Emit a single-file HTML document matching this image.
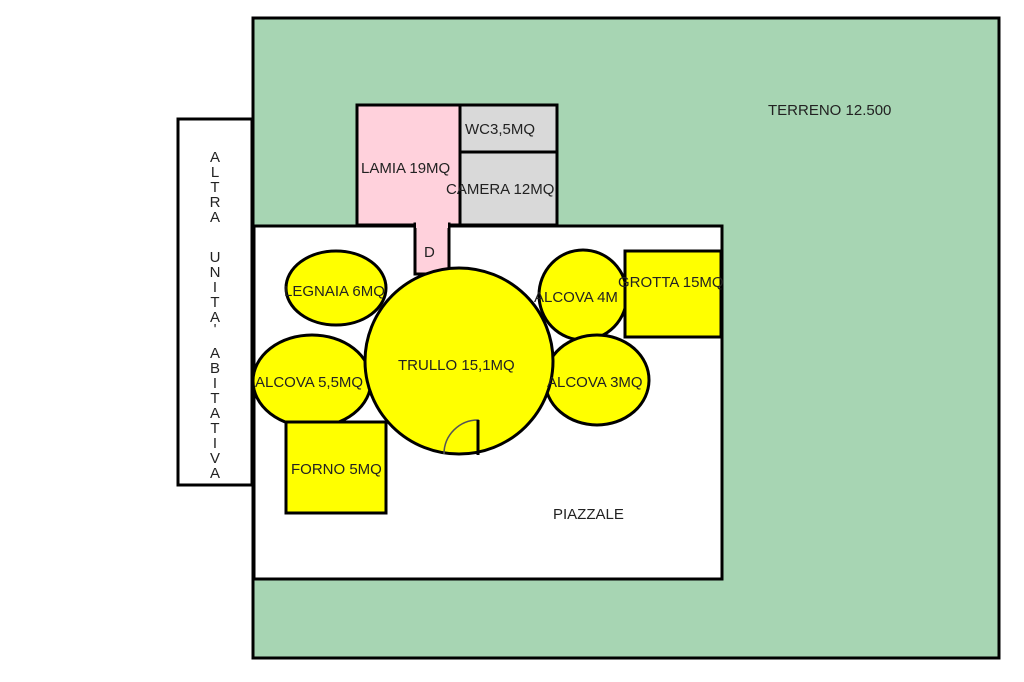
<!DOCTYPE html>
<html><head><style>body{margin:0;background:#fff}svg{display:block}text{font-family:"Liberation Sans",sans-serif;font-size:15px;fill:#222}</style></head><body>
<svg width="1024" height="682" viewBox="0 0 1024 682">
<rect x="0" y="0" width="1024" height="682" fill="#fff"/>
<rect x="253" y="18" width="746" height="640" fill="#a7d5b3" stroke="#000" stroke-width="3"/>
<rect x="178" y="119" width="74" height="366" fill="#fff" stroke="#000" stroke-width="3"/>
<g text-anchor="middle">
<text x="215" y="162">A</text><text x="215" y="177">L</text><text x="215" y="192">T</text><text x="215" y="207">R</text><text x="215" y="222">A</text>
<text x="215" y="262">U</text><text x="215" y="277">N</text><text x="215" y="292">I</text><text x="215" y="307">T</text><text x="215" y="322">A</text><text x="215" y="334">'</text>
<text x="215" y="358">A</text><text x="215" y="373">B</text><text x="215" y="388">I</text><text x="215" y="403">T</text><text x="215" y="418">A</text><text x="215" y="433">T</text><text x="215" y="448">I</text><text x="215" y="463">V</text><text x="215" y="478">A</text>
</g>
<rect x="357" y="105" width="103" height="120" fill="#ffd1dc" stroke="#000" stroke-width="3"/>
<rect x="460" y="105" width="97" height="47" fill="#d9d9d9" stroke="#000" stroke-width="3"/>
<rect x="460" y="152" width="97" height="73" fill="#d9d9d9" stroke="#000" stroke-width="3"/>
<rect x="254" y="226" width="468" height="353" fill="#fff" stroke="#000" stroke-width="3"/>
<rect x="415" y="224" width="34" height="50" fill="#ffd1dc" stroke="#000" stroke-width="3"/>
<rect x="416" y="222" width="32" height="6" fill="#ffd1dc"/>
<ellipse cx="336" cy="288" rx="50" ry="37" fill="#ff0" stroke="#000" stroke-width="3"/>
<ellipse cx="312" cy="381" rx="59" ry="46" fill="#ff0" stroke="#000" stroke-width="3"/>
<ellipse cx="583" cy="295" rx="44" ry="45" fill="#ff0" stroke="#000" stroke-width="3"/>
<ellipse cx="597" cy="380" rx="52" ry="45" fill="#ff0" stroke="#000" stroke-width="3"/>
<rect x="625" y="251" width="96" height="86" fill="#ff0" stroke="#000" stroke-width="3"/>
<rect x="286" y="422" width="100" height="91" fill="#ff0" stroke="#000" stroke-width="3"/>
<ellipse cx="459" cy="361" rx="94" ry="93" fill="#ff0" stroke="#000" stroke-width="3"/>
<path d="M478 455 V420 A34 34 0 0 0 444 454" fill="none" stroke="#555" stroke-width="1.5"/>
<line x1="478" y1="420" x2="478" y2="455" stroke="#000" stroke-width="3"/>
<text x="768" y="115">TERRENO 12.500</text>
<text x="465" y="134">WC3,5MQ</text>
<text x="361" y="173">LAMIA 19MQ</text>
<text x="446" y="194">CAMERA 12MQ</text>
<text x="424" y="257">D</text>
<text x="284" y="296">LEGNAIA 6MQ</text>
<text x="534" y="302">ALCOVA 4M</text>
<text x="618" y="287">GROTTA 15MQ</text>
<text x="398" y="370">TRULLO 15,1MQ</text>
<text x="255" y="387">ALCOVA 5,5MQ</text>
<text x="547" y="387">ALCOVA 3MQ</text>
<text x="291" y="474">FORNO 5MQ</text>
<text x="553" y="519">PIAZZALE</text>
</svg>
</body></html>
